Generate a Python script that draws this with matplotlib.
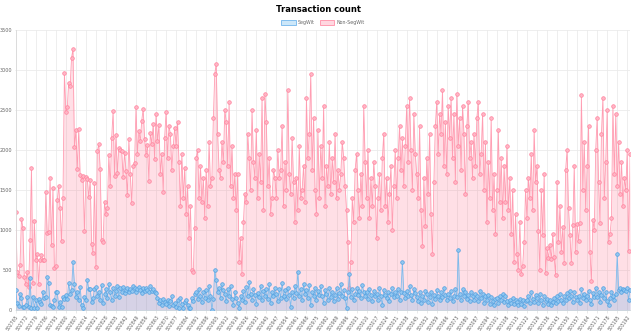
import numpy as np
import matplotlib
matplotlib.use("Agg")
import matplotlib.pyplot as plt

# Transactions per block, SegWit vs non-SegWit (7 blocks per row)
non_segwit = [
    1220, 480, 420, 560, 1140, 1030, 410,
    320, 480, 290, 880, 1780, 340, 1110,
    630, 700, 330, 630, 690, 620, 625,
    1470, 960, 975, 1650, 810, 1530, 530,
    555, 1375, 1550, 1270, 860, 1400, 2960,
    2475, 2533, 2841, 2795, 3154, 3263, 2033,
    2250, 1758, 2258, 1683, 1625, 1675, 983,
    1658, 1633, 1408, 1625, 825, 708, 1591,
    541, 1983, 2075, 1758, 875, 854, 1346,
    1196, 1271, 1933, 1550, 2150, 2483, 1675,
    2183, 1717, 2025, 2000, 1983, 1667, 1967,
    1742, 1440, 2133, 1700, 1333, 1800, 1833,
    2533, 1950, 2242, 2108, 2367, 2513, 2142,
    1933, 2067, 1612, 2217, 2075, 2329, 1883,
    2450, 2108, 2317, 1700, 1950, 1480, 2150,
    2480, 1900, 2300, 2200, 1750, 2050, 2280,
    2050, 2350, 1850, 1300, 1950, 1400, 1780,
    1200, 1550, 900, 1300, 500, 480, 1020,
    1900, 2000, 1400, 1800, 1350, 1650, 1150,
    1750, 1300, 2100, 1550, 1650, 2400, 2950,
    3080, 2200, 1750, 1650, 2100, 1850, 2500,
    2350, 1800, 2600, 1550, 2050, 1400, 1700,
    1250, 1700, 600, 900, 450, 1100, 1450,
    1350, 2200, 1900, 1500, 2500, 1850, 1650,
    2250, 1400, 1950, 1600, 2650, 1250, 2700,
    2350, 1550, 1900, 1200, 1400, 1750, 1650,
    1400, 2000, 1650, 1750, 2300, 1300, 1850,
    1500, 2750, 1700, 1450, 2150, 1600, 1100,
    1650, 1250, 2050, 1400, 1500, 1800, 1350,
    2650, 1900, 2200, 2950, 1750, 2400, 1500,
    1200, 2250, 1400, 2050, 1650, 2550, 1300,
    1800, 1550, 2100, 1450, 1900, 1600, 2200,
    1400, 1750, 1500, 1700, 2100, 1900, 1550,
    1250, 850, 280, 600, 1400, 1100, 1750,
    1950, 1500, 1150, 1700, 1300, 2550, 1850,
    1400, 2000, 1150, 1650, 1300, 1850, 1550,
    900, 1400, 1700, 1250, 1900, 2200, 1300,
    1650, 1100, 1450, 1800, 1000, 1550, 2000,
    1400, 1900, 2300, 1750, 2150, 1550, 2050,
    2550, 1850, 2650, 2000, 1500, 2450, 1950,
    1700, 1400, 2300, 1250, 800, 1650, 1050,
    1900, 1450, 2200, 1200, 700, 1600, 2300,
    2600, 1950, 2450, 2200, 2750, 1800, 2350,
    1700, 2550, 2150, 2650, 1900, 2450, 1600,
    2700, 2050, 2400, 1750, 2550, 2200, 1450,
    2300, 2600, 1900, 2100, 1650, 2200, 1800,
    2400, 2600, 1700, 1950, 2450, 1500, 2100,
    1100, 1850, 1400, 2400, 1250, 1700, 950,
    1500, 2250, 1350, 1900, 1150, 1800, 1350,
    2050, 1250, 1650, 950, 1500, 600, 1200,
    700, 500, 1100, 450, 550, 850, 1500,
    1150, 1650, 1400, 1950, 1250, 2250, 1600,
    1800, 991, 500, 1500, 937, 1700, 458,
    779, 646, 812, 633, 946, 658, 437,
    1600, 854, 1300, 729, 1033, 592, 1750,
    2000, 1271, 937, 592, 1062, 1800, 729,
    1075, 866, 1083, 2690, 1500, 2100, 1250,
    1800, 2300, 729, 362, 1125, 1000, 2000,
    2400, 1600, 1091, 2200, 2650, 1400, 1850,
    2500, 854, 946, 1146, 2550, 1700, 2450,
    1550, 2100, 1450, 1850, 1300, 1650, 1500,
    2000, 741, 1950,
]

segwit = [
    246, 83, 50, 196, 154, 40, 33,
    60, 167, 42, 396, 20, 167, 30,
    125, 25, 133, 96, 75, 229, 146,
    158, 416, 341, 62, 50, 42, 125,
    229, 225, 40, 100, 42, 167, 133,
    187, 140, 333, 200, 250, 600, 325,
    167, 229, 125, 291, 60, 21, 167,
    130, 375, 258, 258, 104, 150, 262,
    291, 180, 230, 130, 310, 90, 200,
    260, 150, 330, 220, 120, 280, 180,
    240, 300, 160, 270, 230, 290, 210,
    250, 280, 220, 260, 240, 300, 270,
    230, 260, 290, 250, 210, 270, 240,
    280, 250, 220, 300, 240, 260, 230,
    210, 150, 90, 120, 60, 140, 100,
    80, 130, 50, 110, 170, 60, 90,
    40, 120, 30, 150, 80, 25, 100,
    130, 60, 25, 20, 150, 110, 200,
    230, 140, 260, 180, 100, 220, 150,
    250, 120, 300, 180, 0, 140, 500,
    370, 220, 280, 150, 320, 250, 200,
    110, 260, 180, 300, 140, 60, 220,
    150, 90, 20, 180, 120, 240, 100,
    290, 170, 350, 200, 130, 260, 190,
    80, 210, 160, 300, 120, 240, 180,
    260, 140, 320, 90, 230, 170, 280,
    200, 110, 260, 150, 340, 180, 250,
    140, 280, 190, 40, 230, 150, 300,
    210, 480, 170, 260, 120, 330, 200,
    250, 150, 310, 60, 220, 180, 270,
    130, 240, 190, 300, 170, 90, 250,
    200, 130, 280, 160, 230, 110, 190,
    270, 140, 210, 320, 180, 250, 150,
    30, 220, 450, 160, 260, 120, 200,
    280, 190, 240, 150, 310, 230, 170,
    220, 140, 260, 190, 110, 240, 170,
    200, 130, 280, 170, 60, 250, 190,
    150, 230, 110, 200, 270, 160, 220,
    180, 260, 120, 230, 600, 210, 150,
    240, 170, 300, 190, 130, 260, 210,
    160, 110, 220, 90, 180, 130, 240,
    200, 100, 160, 230, 70, 190, 140,
    250, 170, 120, 220, 160, 280, 190,
    130, 200, 150, 240, 110, 180, 260,
    160, 750, 200, 120, 260, 170, 230,
    140, 190, 110, 230, 170, 120, 200,
    180, 110, 240, 150, 200, 90, 170,
    120, 190, 80, 160, 110, 60, 140,
    150, 90, 180, 120, 200, 100, 170,
    110, 60, 130, 90, 150, 70, 120,
    100, 60, 140, 80, 120, 50, 110,
    130, 180, 90, 220, 140, 100, 190,
    150, 90, 200, 130, 60, 170, 110,
    140, 80, 120, 60, 100, 150, 90,
    170, 110, 200, 130, 90, 180, 120,
    210, 150, 240, 170, 100, 220, 160,
    120, 180, 90, 260, 150, 200, 130,
    180, 240, 130, 70, 210, 160, 280,
    160, 230, 100, 190, 270, 150, 220,
    110, 60, 150, 230, 180, 130, 200,
    700, 250, 270, 230, 260, 250, 240,
    270, 130, 255,
]

first_block = 502765
blocks = [str(first_block + i) for i in range(len(segwit))]
label_step = 7

x = np.arange(len(blocks))

fig = plt.figure(figsize=(6.36, 3.31), dpi=100)
ax = fig.add_axes([0.0247, 0.0634, 0.966, 0.846])

# non-SegWit underneath, SegWit on top
ax.fill_between(x, non_segwit, 0, color=(1.0, 0.388, 0.518, 0.2), lw=0, zorder=1)
ax.plot(x, non_segwit, color="#ff9db2", lw=0.6, marker="o", ms=2.6,
        mfc="#ffb6c6", mec="#ff819c", mew=0.5, zorder=2)
ax.fill_between(x, segwit, 0, color=(0.212, 0.635, 0.922, 0.2), lw=0, zorder=3)
ax.plot(x, segwit, color="#7dbbed", lw=0.6, marker="o", ms=2.6,
        mfc="#92c7f1", mec="#4f9fe0", mew=0.5, zorder=4)

ax.set_xlim(0, len(blocks) - 1)
ax.set_ylim(0, 3500)
ax.set_yticks(range(0, 3501, 500))
ax.set_yticklabels([str(v) for v in range(0, 3501, 500)], fontsize=3.5, color="#666666")
ticks = x[::label_step]
ax.set_xticks(ticks)
ax.set_xticklabels([blocks[i] for i in ticks], fontsize=3.3, color="#666666",
                   rotation=55, ha="right", rotation_mode="anchor")
ax.tick_params(axis="x", length=2, width=0.5, color="#e0e0e0", pad=1)
ax.tick_params(axis="y", length=1, width=0.5, color="#e0e0e0", pad=1.5)
ax.grid(True, color="#ebebeb", lw=0.6, zorder=0)
ax.set_axisbelow(True)
for side in ["top", "right"]:
    ax.spines[side].set_visible(False)
for side in ["left", "bottom"]:
    ax.spines[side].set_color("#d9d9d9")
    ax.spines[side].set_linewidth(0.6)

fig.text(0.5, 0.97, "Transaction count", ha="center", va="center",
         fontsize=6, fontweight="bold", color="#000000")

# legend boxes in the style of the web chart
leg = ax.legend(
    handles=[
        plt.Rectangle((0, 0), 1, 1, fc=(0.212, 0.635, 0.922, 0.25), ec="#72b6ec", lw=0.6),
        plt.Rectangle((0, 0), 1, 1, fc=(1.0, 0.388, 0.518, 0.25), ec="#ff8fa8", lw=0.6),
    ],
    labels=["SegWit", "Non-SegWit"],
    loc="lower center", bbox_to_anchor=(0.5, 1.01), ncol=2, frameon=False,
    fontsize=3.4, handlelength=3.1, handleheight=1.3, handletextpad=0.4,
    columnspacing=1.0, borderaxespad=0,
)
for t in leg.get_texts():
    t.set_color("#666666")

fig.savefig("out.png", dpi=100)
